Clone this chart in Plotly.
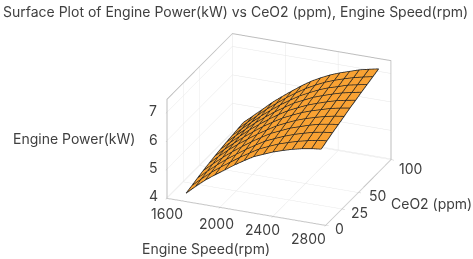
import plotly.graph_objects as go

speed = [1744, 1817, 1890, 1963, 2036, 2109, 2182, 2255, 2328, 2401, 2474, 2547, 2620, 2693, 2766]
ceo2 = [0, 8.8, 17.6, 26.4, 35.2, 44, 52.8, 61.6, 70.4, 79.2, 88]
power = [
 [4.25,4.55,4.83,5.07,5.30,5.53,5.74,5.94,6.08,6.22,6.33,6.43,6.51,6.57,6.61],
 [4.31,4.61,4.89,5.14,5.37,5.60,5.81,6.01,6.16,6.30,6.41,6.51,6.59,6.66,6.70],
 [4.38,4.67,4.95,5.21,5.44,5.67,5.88,6.08,6.23,6.37,6.49,6.59,6.68,6.74,6.79],
 [4.44,4.73,5.01,5.27,5.51,5.74,5.95,6.15,6.30,6.45,6.56,6.67,6.76,6.82,6.87],
 [4.49,4.79,5.07,5.33,5.57,5.80,6.01,6.21,6.37,6.52,6.64,6.74,6.83,6.90,6.95],
 [4.54,4.83,5.11,5.38,5.63,5.87,6.08,6.28,6.44,6.59,6.71,6.81,6.91,6.98,7.04],
 [4.58,4.87,5.15,5.43,5.68,5.92,6.14,6.34,6.50,6.65,6.77,6.88,6.98,7.05,7.11],
 [4.62,4.91,5.19,5.47,5.73,5.97,6.19,6.40,6.56,6.72,6.84,6.95,7.05,7.12,7.19],
 [4.65,4.94,5.23,5.51,5.77,6.02,6.24,6.45,6.62,6.78,6.91,7.01,7.12,7.19,7.26],
 [4.68,4.97,5.26,5.55,5.81,6.06,6.29,6.50,6.68,6.84,6.97,7.08,7.18,7.26,7.33],
 [4.71,5.00,5.29,5.59,5.85,6.10,6.34,6.56,6.74,6.90,7.03,7.14,7.25,7.33,7.40],
]
speed_ticks = [1600, 2000, 2400, 2800]
ceo2_ticks = [0, 25, 50, 100]
power_ticks = [4, 5, 6, 7]

speed_shift = [(0, 16), (-3, 17), (-10, 14), (-17, 14)]
ceo2_shift = [(14, 4), (17, 4), (19, 4), (19, 10)]
power_shift = [(-14, -2), (-14, -2), (-14, -1), (-14, -2)]

FONT = "Inter"
TEXT = "#404040"
GRID = "#e6e6e6"
LINE = "#bdbdbd"
MESH = "#222222"

def axis(rng, ticks):
    return dict(
        range=rng, tickvals=ticks, showticklabels=False, title=dict(text=""),
        showgrid=True, gridcolor=GRID, gridwidth=1, showline=True, linecolor=LINE, linewidth=2,
        mirror=True, ticks="outside", ticklen=3, tickcolor=LINE, zeroline=False,
        showbackground=False, showspikes=False,
    )

fig = go.Figure(go.Surface(
    x=speed, y=ceo2, z=power, showscale=False,
    colorscale=[[0, "#F9A233"], [1, "#F9A233"]],
    lighting=dict(ambient=1, diffuse=0, specular=0, fresnel=0, roughness=1),
    hoverinfo="skip",
))

def mesh_line(xs, ys, zs):
    return go.Scatter3d(x=xs, y=ys, z=[v + 0.012 for v in zs], mode="lines",
                        line=dict(color=MESH, width=1.6), hoverinfo="skip", showlegend=False)

for j, cy in enumerate(ceo2):
    fig.add_trace(mesh_line(speed, [cy] * len(speed), power[j]))
for i, sx in enumerate(speed):
    fig.add_trace(mesh_line([sx] * len(ceo2), ceo2, [row[i] for row in power]))

def note(text, x, y):
    return dict(text=text, x=x, y=y, xref="paper", yref="paper", showarrow=False,
                xanchor="center", yanchor="middle", font=dict(family=FONT, size=14, color=TEXT))

def tick_label(value, x, y, z, shift):
    return dict(text=str(value), x=x, y=y, z=z, showarrow=False, xanchor="center", yanchor="middle",
                xshift=shift[0], yshift=-shift[1], font=dict(family=FONT, size=14, color=TEXT))

scene_notes = (
    [tick_label(v, v, ceo2_ticks[0], power_ticks[0], s) for v, s in zip(speed_ticks, speed_shift)]
    + [tick_label(v, speed_ticks[-1], v, power_ticks[0], s) for v, s in zip(ceo2_ticks, ceo2_shift)]
    + [tick_label(v, speed_ticks[0], ceo2_ticks[0], v, s) for v, s in zip(power_ticks, power_shift)]
)

fig.update_layout(
    width=473, height=259, margin=dict(l=0, r=0, t=0, b=0),
    paper_bgcolor="white", showlegend=False,
    title=dict(text="Surface Plot of Engine Power(kW) vs CeO2 (ppm), Engine Speed(rpm)",
               x=3/473, xanchor="left", y=1-12/259, yanchor="middle",
               font=dict(family=FONT, size=14, color=TEXT)),
    scene=dict(
        domain=dict(x=[0.18, 1], y=[0, 1]),
        xaxis=axis([1600, 2800], speed_ticks),
        yaxis=axis([0, 100], ceo2_ticks),
        zaxis=axis([3.97, 7.45], power_ticks),
        aspectmode="manual", aspectratio=dict(x=1.325, y=1.325, z=0.84),
        camera=dict(eye=dict(x=0.39, y=-0.947, z=0.466), center=dict(x=0, y=0, z=0),
                    up=dict(x=0, y=0, z=1), projection=dict(type="orthographic")),
        annotations=scene_notes,
    ),
    annotations=[
        note("Engine Power(kW)", 74/473, 1-138/259),
        note("Engine Speed(rpm)", 206/473, 1-248/259),
        note("CeO2 (ppm)", 431/473, 1-203/259),
    ],
)
fig.write_html("out.html", config=dict(displayModeBar=False),
               post_script="document.body.style.margin='0';document.documentElement.style.overflow='hidden';")
